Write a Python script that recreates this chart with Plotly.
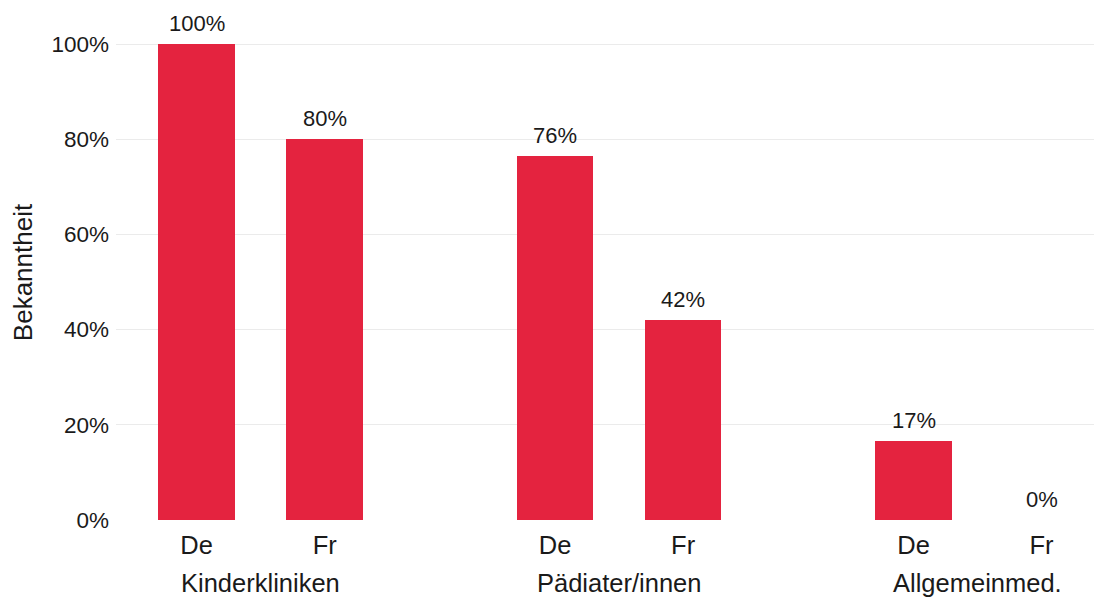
import plotly.graph_objects as go

groups = ['Kinderkliniken', 'Pädiater/innen', 'Allgemeinmed.']
langs = ['De', 'Fr']
bekanntheit = [[100, 80], [76.5, 42.1], [16.7, 0]]
y_ticks = [0, 20, 40, 60, 80, 100]

group_step = 2.8
x_pos, y_vals, x_lab = [], [], []
for g, vals in enumerate(bekanntheit):
    for s, v in enumerate(vals):
        x_pos.append(g * group_step + s)
        y_vals.append(v)
        x_lab.append(langs[s])

red = '#E4233F'
fam = 'Liberation Sans, Arial, sans-serif'
ink = '#1a1a1a'

fig = go.Figure()
fig.add_trace(go.Bar(
    x=x_pos, y=y_vals, width=0.6,
    marker=dict(color=red, line=dict(width=0)),
    showlegend=False,
))

# value labels above the bars
for x, v in zip(x_pos, y_vals):
    fig.add_annotation(x=x, y=v, xref='x', yref='y', yanchor='bottom', yshift=6,
                       text=f'{round(v)}%', showarrow=False,
                       font=dict(family=fam, size=22, color=ink))

# group labels under the De/Fr ticks
for g, name in enumerate(groups):
    fig.add_annotation(x=g * group_step + 0.5, y=0, xref='x', yref='paper',
                       yanchor='top', yshift=-47, text=name, showarrow=False,
                       font=dict(family=fam, size=25.5, color=ink))

fig.update_layout(
    width=1105, height=597,
    margin=dict(l=108, r=19, t=17, b=85),
    plot_bgcolor='white', paper_bgcolor='white',
    font=dict(family=fam, color=ink), bargap=0,
    xaxis=dict(range=[-0.63, 7.01], tickvals=x_pos, ticktext=x_lab,
               showgrid=False, zeroline=False, showline=False, ticks='',
               ticklabelstandoff=7,
               tickfont=dict(family=fam, size=25.5, color=ink)),
    yaxis=dict(range=[0, 104], tickvals=y_ticks,
               ticktext=[f'{t}%' for t in y_ticks],
               showgrid=True, gridcolor='#EBEBEB', gridwidth=1,
               zeroline=False, showline=False, ticks='',
               ticklabelstandoff=6, tickfont=dict(family=fam, size=22.5, color=ink),
               title=dict(text='Bekanntheit', font=dict(family=fam, size=26, color=ink), standoff=14)),
)

fig.write_html('out.html')
